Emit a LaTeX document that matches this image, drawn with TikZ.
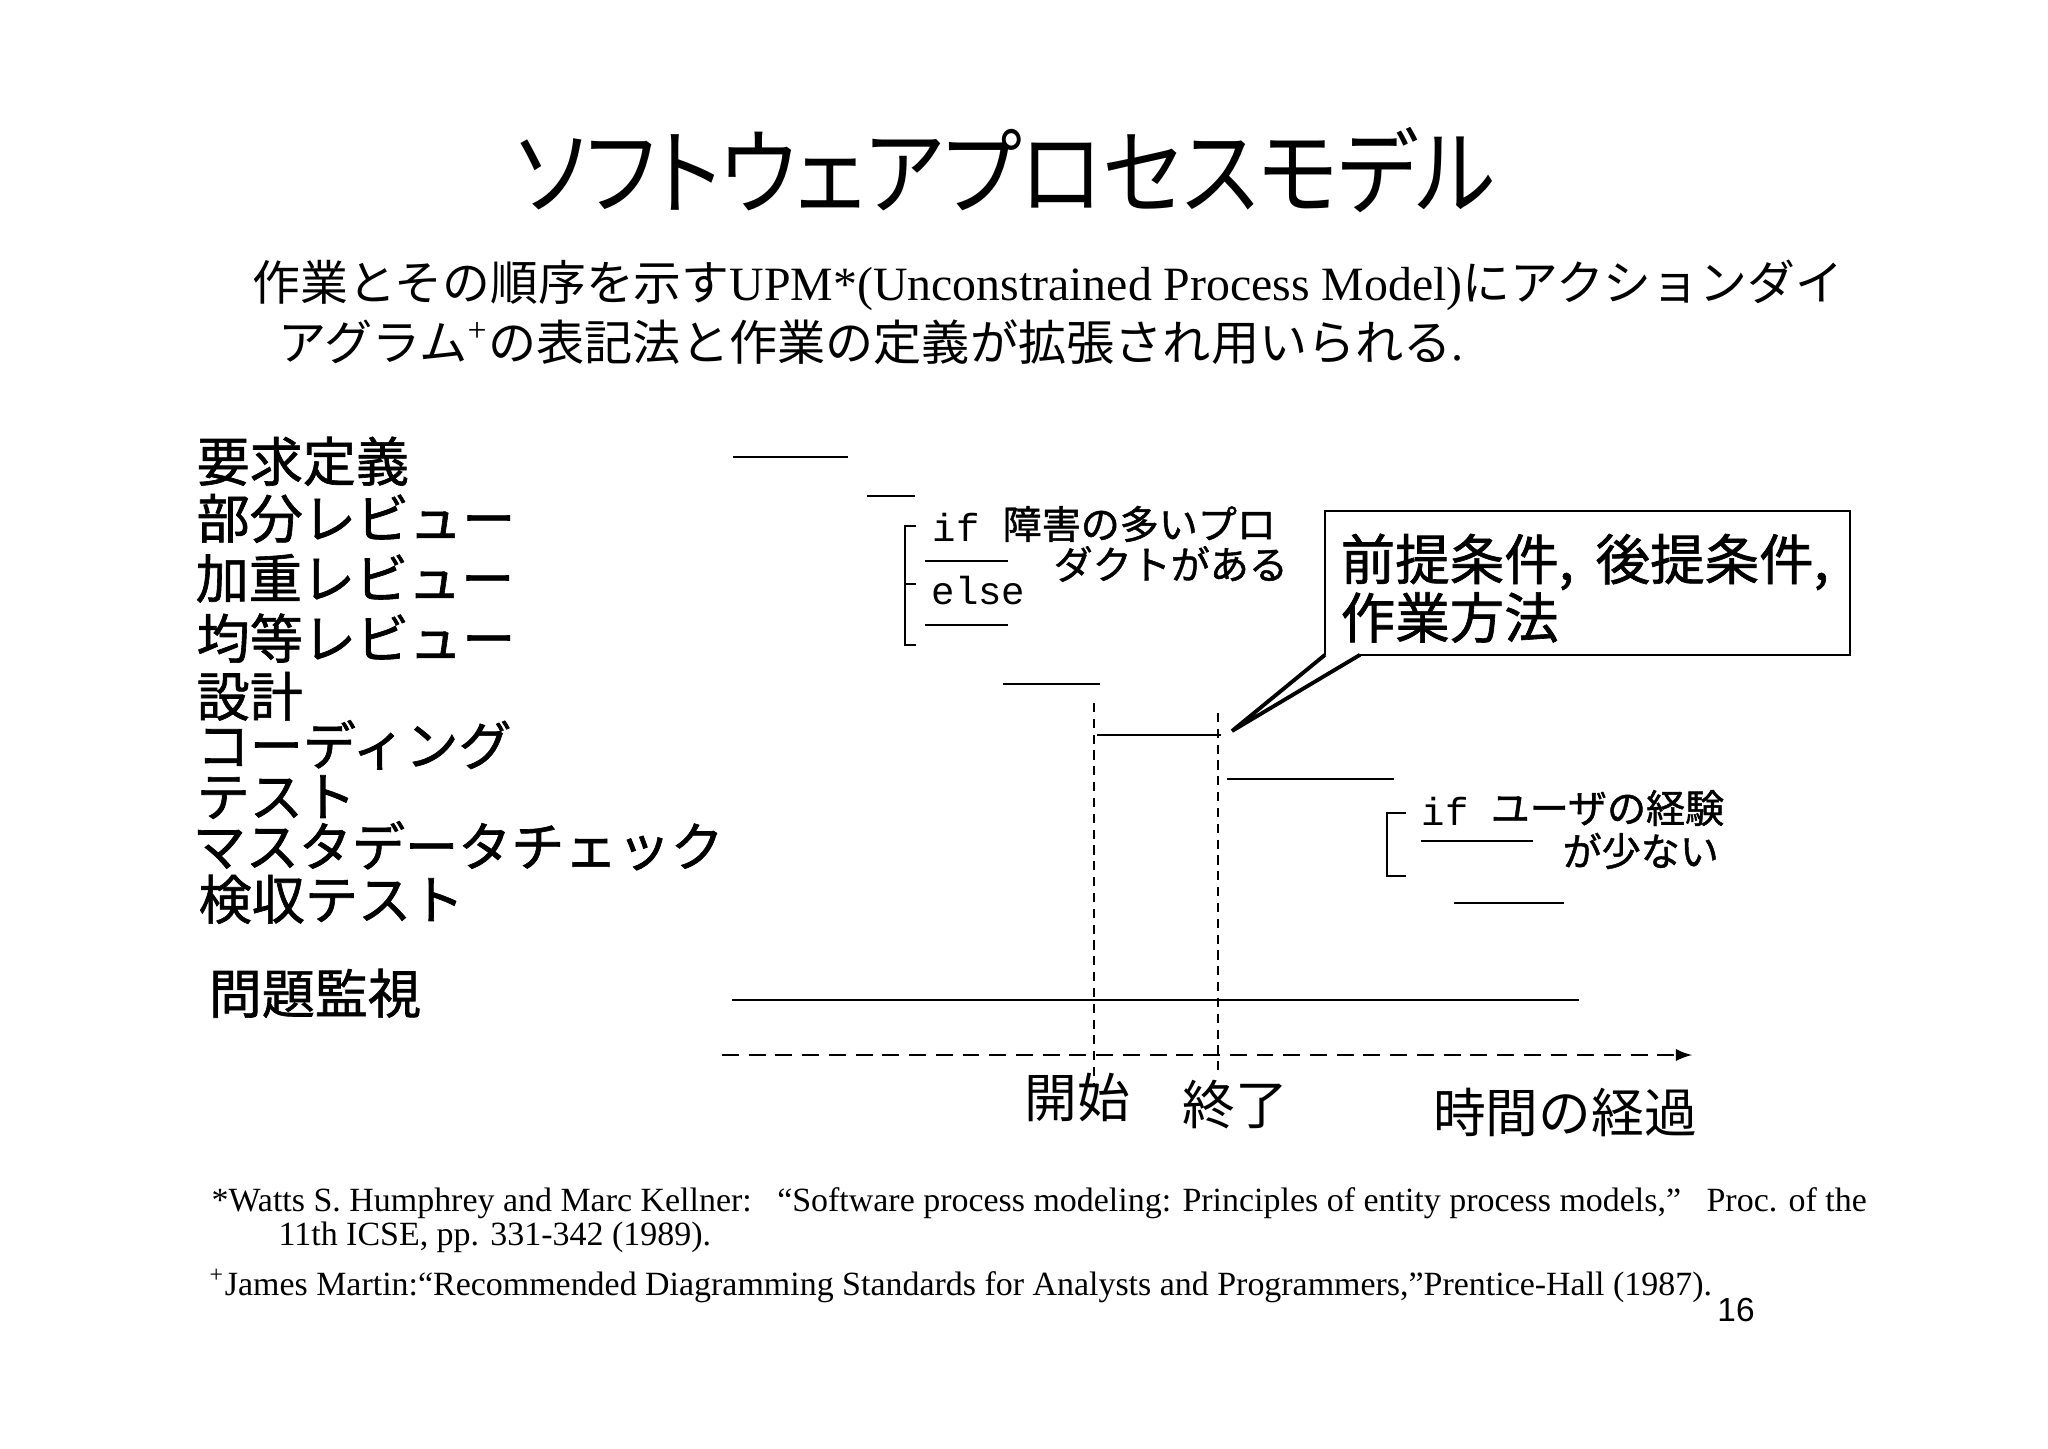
\documentclass[tikz,border=0pt]{standalone}
\usepackage{fontspec}
\setmainfont{Liberation Serif}
\setsansfont{Liberation Sans}
\setmonofont{Liberation Mono}
\newfontfamily\jp{Noto Sans CJK JP}
\newfontfamily\jpb[FakeBold=1.2]{Noto Sans CJK JP}
\newfontfamily\jpp[RawFeature=+palt]{Noto Sans CJK JP}
\usetikzlibrary{positioning,calc}
\usetikzlibrary{arrows}

\tikzset{
  lab/.style = {anchor=west, inner sep=0pt, text height=0.8em, text depth=0.04em,
    font=\jpb\fontsize{15.1}{15.1}\selectfont},
  axis/.style = {inner sep=0pt, font=\jp\fontsize{15}{15}\selectfont},
  note/.style = {anchor=west, inner sep=0pt, font=\jpb\fontsize{11.1}{11.1}\selectfont},
  kw/.style = {anchor=west, inner sep=0pt, font=\ttfamily\fontsize{11.1}{11.1}\selectfont},
  fnote/.style = {anchor=west, inner sep=0pt, font=\fontsize{9.65}{9.65}\selectfont},
  bar/.style = {line width=0.75pt},
  brk/.style = {line width=0.5pt},
  vdash/.style = {line width=0.45pt, dash pattern=on 2.6pt off 1.9pt},
}

\begin{document}
\begin{tikzpicture}[x=0.01cm, y=-0.01cm, >=latex]
\useasboundingbox (0,0) rectangle (2048,1448);

% heading
\node [inner sep=0pt, font=\jpp\fontsize{23.9}{23.9}\selectfont] (title) at (1006, 170)
	{\scalebox{1}[1.12]{ソフトウェアプロセスモデル}};
\node [anchor=west, inner sep=0pt, font=\fontsize{13.6}{13.6}\selectfont] (lead1) at (252, 285)
	{{\jp 作業とその順序を示す}UPM*(Unconstrained Process Model){\jp にアクションダイ}};
\node [anchor=west, inner sep=0pt, font=\fontsize{13.7}{13.7}\selectfont] (lead2) at (278, 342)
	{{\jp アグラム}\textsuperscript{+}{\jp の表記法と作業の定義が拡張され用いられる}.};

% activities
\node [lab] (req) at (196, 468) {要求定義};
\node [lab] (part) at (196, 525) {部分レビュー};
\node [lab] (wgt) at (195, 585) {加重レビュー};
\node [lab] (even) at (196, 645) {均等レビュー};
\node [lab] (des) at (196, 703) {設計};
\node [lab] (code) at (196, 752) {コーディング};
\node [lab] (test) at (196, 803) {テスト};
\node [lab] (mdc) at (192, 853) {マスタデータチェック};
\node [lab] (acc) at (198, 906) {検収テスト};
\node [lab] (mon) at (208, 1000) {問題監視};

% bars
\draw [bar] (733, 457)  --  (848, 457);
\draw [bar] (867, 496)  --  (915, 496);
\draw [bar] (925, 561)  --  (1008, 561);
\draw [bar] (925, 625)  --  (1008, 625);
\draw [bar] (1003, 684)  --  (1100, 684);
\draw [bar] (1097, 735)  --  (1221, 735);
\draw [bar] (1227, 779)  --  (1394, 779);
\draw [bar] (1421, 841)  --  (1533, 841);
\draw [bar] (1454, 903)  --  (1564, 903);
\draw [bar] (732, 1000)  --  (1579, 1000);

% branches
\draw [brk] (916, 526) -- (905, 526) -- (905, 645) -- (916, 645);
\draw [brk] (905, 584) -- (916, 584);
\draw [brk] (1406, 813) -- (1387, 813) -- (1387, 876) -- (1406, 876);
\node [kw] (if1) at (932, 527) {if};
\node [note] (c1a) at (1002, 524) {障害の多いプロ};
\node [note] (c1b) at (1053, 564) {ダクトがある};
\node [kw] (else1) at (931, 591) {else};
\node [kw] (if2) at (1421, 811) {if};
\node [note] (c2a) at (1490, 808) {ユーザの経験};
\node [note] (c2b) at (1562, 851) {が少ない};

% time axis
\draw [vdash] (1094, 703)  --  (1094, 1085);
\draw [vdash] (1218, 713)  --  (1218, 1076);
\draw [->, line width=0.6pt, dash pattern=on 4.8pt off 2.8pt] (722, 1055)  --  (1692, 1055);
\node [axis] (start) at (1077, 1097) {開始};
\node [axis] (fin) at (1235, 1105) {終了};
\node [axis] (elapse) at (1565, 1112) {時間の経過};

% callout
\node [anchor=north west, inner xsep=0.15cm, inner ysep=0pt, text width=4.93cm,
	align=left, font=\jpb\fontsize{15.5}{16.6}\selectfont] (cond) at (1325, 511)
	{\rule{0pt}{0.68cm}前提条件,\hspace{0.4em}後提条件,\\作業方法\rule[-0.16cm]{0pt}{0.16cm}};
\coordinate (tip) at (1232, 731);
\draw [line width=0.6pt] ($(cond.south west)+(35,0)$) -- (cond.south east) -- (cond.north east)
	-- (cond.north west) -- (cond.south west);
\draw [line width=1.1pt] (cond.south west) -- (tip) -- ($(cond.south west)+(35,0)$);

% references
\node [fnote] (fn1) at (211, 1203) {*Watts S. Humphrey and Marc Kellner:\ \ \ “Software process modeling: Principles of entity process models,”\ \ \ Proc. of the};
\node [fnote] (fn2) at (278, 1237) {11th ICSE, pp. 331-342 (1989).};
\node [fnote] (fn3) at (209, 1286) {\textsuperscript{+}James Martin:“Recommended Diagramming Standards for Analysts and Programmers,”Prentice-Hall (1987).};
\node [inner sep=0pt, font=\sffamily\fontsize{9.5}{9.5}\selectfont] (page) at (1736, 1310) {16};

\end{tikzpicture}
\end{document}
